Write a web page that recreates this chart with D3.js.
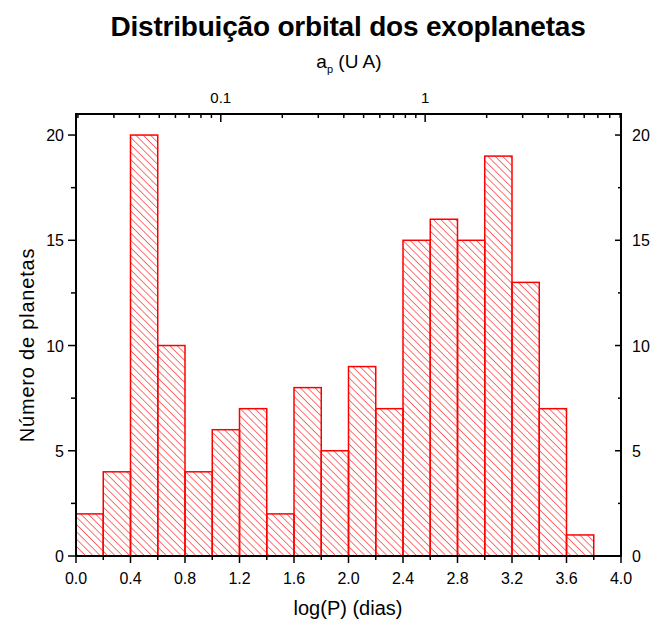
<!DOCTYPE html>
<html>
<head>
<meta charset="utf-8">
<script src="https://cdn.jsdelivr.net/npm/d3@7"></script>
<style>
  body { margin: 0; background: #fff; }
  svg text { font-family: "Liberation Sans", Arial, sans-serif; fill: #000; }
</style>
</head>
<body>
<div id="chart"></div>
<script>
'use strict';

// histogram bins of log(P), width 0.2
const binStarts = [0.0, 0.2, 0.4, 0.6, 0.8, 1.0, 1.2, 1.4, 1.6, 1.8,
                   2.0, 2.2, 2.4, 2.6, 2.8, 3.0, 3.2, 3.4, 3.6];
const counts = [2, 4, 20, 10, 4, 6, 7, 2, 8, 5, 9, 7, 15, 16, 15, 19, 13, 7, 1];
const binWidth = 0.2;

const xTicks = [0.0, 0.4, 0.8, 1.2, 1.6, 2.0, 2.4, 2.8, 3.2, 3.6, 4.0];
const yTicks = [0, 5, 10, 15, 20];
const topTicks = [0.1, 1];

const width = 651, height = 626;
const margin = {top: 114, right: 30, bottom: 70, left: 76};

const svg = d3.select('#chart').append('svg')
    .attr('width', width)
    .attr('height', height);

const x = d3.scaleLinear().domain([0, 4]).range([margin.left, width - margin.right]);
const y = d3.scaleLinear().domain([0, 21]).range([height - margin.bottom, margin.top]);

// a (UA) -> log(P) via Kepler: P = 365.25 * a^1.5 days
const aToLogP = a => 1.5 * Math.log10(a) + Math.log10(365.25);

// hatch pattern
const defs = svg.append('defs');
defs.append('pattern')
    .attr('id', 'hatch')
    .attr('patternUnits', 'userSpaceOnUse')
    .attr('width', 5.2)
    .attr('height', 5.2)
    .attr('patternTransform', 'rotate(-45)')
  .append('line')
    .attr('x1', 0).attr('y1', 0)
    .attr('x2', 0).attr('y2', 5.2)
    .attr('stroke', '#ff0000')
    .attr('stroke-width', 1.1);

// bars
svg.append('g').selectAll('rect')
    .data(binStarts)
    .join('rect')
    .attr('x', (d) => x(d))
    .attr('y', (d, i) => y(counts[i]))
    .attr('width', (d) => x(d + binWidth) - x(d))
    .attr('height', (d, i) => y(0) - y(counts[i]))
    .attr('fill', 'url(#hatch)')
    .attr('stroke', '#ff0000')
    .attr('stroke-width', 1.5);

// frame
const x0 = x(0), x1 = x(4), y0 = y(0), y1 = y(21);
svg.append('rect')
    .attr('x', x0).attr('y', y1)
    .attr('width', x1 - x0).attr('height', y0 - y1)
    .attr('fill', 'none')
    .attr('stroke', '#000')
    .attr('stroke-width', 2);

// bottom axis: ticks outward
const minorX = d3.range(0, 4.0001, 0.2);
const bottomAxis = svg.append('g');
bottomAxis.selectAll('line')
    .data(minorX)
    .join('line')
    .attr('x1', (d) => x(d)).attr('x2', (d) => x(d))
    .attr('y1', y0)
    .attr('y2', (d, i) => y0 + (i % 2 === 0 ? 7 : 4))
    .attr('stroke', '#000')
    .attr('stroke-width', 1.5);
bottomAxis.selectAll('text')
    .data(xTicks)
    .join('text')
    .attr('x', (d) => x(d))
    .attr('y', y0 + 28)
    .attr('text-anchor', 'middle')
    .style('font-size', '16px')
    .text((d) => d.toFixed(1));

// left axis: ticks outward; right axis: ticks inward
const minorY = d3.range(0, 21, 2.5);
const leftAxis = svg.append('g');
leftAxis.selectAll('line')
    .data(minorY)
    .join('line')
    .attr('x1', x0)
    .attr('x2', (d, i) => x0 - (i % 2 === 0 ? 8 : 5))
    .attr('y1', (d) => y(d)).attr('y2', (d) => y(d))
    .attr('stroke', '#000')
    .attr('stroke-width', 1.5);
leftAxis.selectAll('text')
    .data(yTicks)
    .join('text')
    .attr('x', x0 - 12)
    .attr('y', (d) => y(d) + 6)
    .attr('text-anchor', 'end')
    .style('font-size', '16px')
    .text((d) => d);

const rightAxis = svg.append('g');
rightAxis.selectAll('line')
    .data(minorY)
    .join('line')
    .attr('x1', x1)
    .attr('x2', (d, i) => x1 - (i % 2 === 0 ? 6 : 3))
    .attr('y1', (d) => y(d)).attr('y2', (d) => y(d))
    .attr('stroke', '#000')
    .attr('stroke-width', 1.5);
rightAxis.selectAll('text')
    .data(yTicks)
    .join('text')
    .attr('x', x1 + 11)
    .attr('y', (d) => y(d) + 6)
    .attr('text-anchor', 'start')
    .style('font-size', '16px')
    .text((d) => d);

// top axis in a_p (UA), log scale, ticks inward
const topMinor = [];
[0.01, 0.1, 1].forEach(function(dec) {
    for (let k = 1; k <= 9; k++) topMinor.push(k * dec);
});
const topVisible = topMinor.filter((a) => aToLogP(a) >= 0 && aToLogP(a) <= 4);
const topAxis = svg.append('g');
topAxis.selectAll('line')
    .data(topVisible)
    .join('line')
    .attr('x1', (d) => x(aToLogP(d))).attr('x2', (d) => x(aToLogP(d)))
    .attr('y1', y1)
    .attr('y2', (d) => y1 + (topTicks.some((t) => Math.abs(t - d) < 1e-9) ? 8 : 4))
    .attr('stroke', '#000')
    .attr('stroke-width', 1.5);
topAxis.selectAll('text')
    .data(topTicks)
    .join('text')
    .attr('x', (d) => x(aToLogP(d)))
    .attr('y', y1 - 11)
    .attr('text-anchor', 'middle')
    .style('font-size', '15px')
    .text((d) => d);

// titles
svg.append('text')
    .attr('x', 348).attr('y', 36)
    .attr('text-anchor', 'middle')
    .style('font-size', '28px')
    .style('font-weight', 'bold')
    .style('letter-spacing', '-0.2px')
    .text('Distribuição orbital dos exoplanetas');

const topLabel = svg.append('text')
    .attr('x', 349).attr('y', 68)
    .attr('text-anchor', 'middle')
    .style('font-size', '19px');
topLabel.append('tspan').text('a');
topLabel.append('tspan').attr('dy', 5).style('font-size', '11px').text('p');
topLabel.append('tspan').attr('dy', -5).text(' (U A)');

svg.append('text')
    .attr('x', 348).attr('y', 615)
    .attr('text-anchor', 'middle')
    .style('font-size', '20px')
    .text('log(P) (dias)');

svg.append('text')
    .attr('transform', 'translate(34,345) rotate(-90)')
    .attr('text-anchor', 'middle')
    .style('font-size', '20px')
    .style('letter-spacing', '0.8px')
    .text('Número de planetas');
</script>
</body>
</html>
